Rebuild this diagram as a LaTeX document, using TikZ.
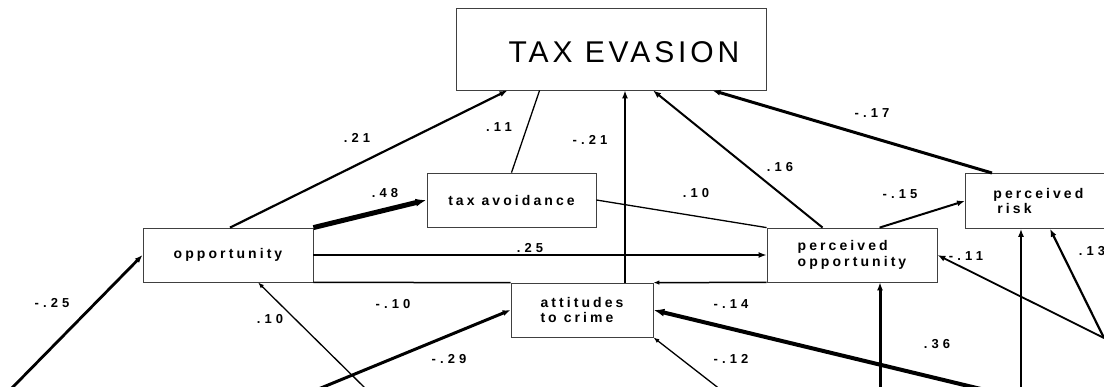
\documentclass[tikz,border=0pt]{standalone}
\usepackage{fontspec}
\setmainfont{Liberation Sans}
\newfontfamily\labfont[LetterSpace=22]{Liberation Sans Bold}
\newfontfamily\numfont[LetterSpace=32]{Liberation Sans Bold}
\newfontfamily\tefont[LetterSpace=13]{Liberation Sans}
\usetikzlibrary{arrows.meta,calc}
\begin{document}
\begin{tikzpicture}[x=1pt,y=-1pt,
  box/.style={draw=black!75,line width=0.8pt,rectangle,inner sep=0pt},
  boxtext/.style={font=\fontsize{14}{15.5}\labfont,align=left},
  lab/.style={font=\fontsize{13}{14}\numfont,inner sep=0pt},
  arr/.style={-{Latex[length=8pt,width=6pt]}},
  sarr/.style={-{Latex[length=6pt,width=4.5pt]}},
  barr/.style={-{Latex[length=11pt,width=8pt]}}]
\useasboundingbox (0,0) rectangle (1104,387);
\clip (0,0) rectangle (1104,387);
% boxes
\node[box,minimum width=310pt,minimum height=82pt] (te) at (611,49) {};
\node[font=\fontsize{30}{32}\tefont,inner sep=0pt] (tetext) at (624,52) {TAX EVASION};
\node[box,boxtext,minimum width=169pt,minimum height=54pt] (ta) at (511.5,200) {tax avoidance};
\node[box,boxtext,minimum width=170pt,minimum height=54pt] (opp) at (228,255) {opportunity};
\node[box,boxtext,minimum width=142pt,minimum height=54pt] (att) at (582,310) {attitudes\\to crime};
\node[box,boxtext,minimum width=170pt,minimum height=54pt] (popp) at (852,255) {perceived\\opportunity};
\node[box,boxtext,anchor=north west,minimum height=55pt,inner xsep=28pt,text width=130pt] (prisk) at (965,173) {perceived\\\hspace*{4pt}risk};
% free ends
\coordinate (c25) at (10,390);
\coordinate (c10b) at (367,390);
\coordinate (c29) at (316,390);
\coordinate (c12) at (721,390);
\coordinate (c36) at (985,390);
\coordinate (c880) at (880,390);
\coordinate (c1021) at (1021,390);
\coordinate (cR) at (1104,338);
% connectors to TAX EVASION
\draw[arr,line width=2.2pt] ([xshift=2pt]opp.north) -- ([xshift=52pt]te.south west);
\draw[line width=1.3pt] (ta.north) -- ([xshift=84pt]te.south west);
\draw[arr,line width=2.6pt] ([xshift=43pt]att.north) -- ([xshift=43pt]att.north |- te.south);
\draw[arr,line width=2pt] ([xshift=56pt]popp.north west) -- ([xshift=42pt]te.south);
\draw[arr,line width=3pt] ([xshift=27pt]prisk.north west) -- ([xshift=-54pt]te.south east);
% middle connectors
\draw[barr,line width=5pt] (opp.north east) -- (ta.west);
\draw[line width=1.3pt] (ta.east) -- (popp.north west);
\draw[arr,line width=2pt] ([xshift=113pt]popp.north west) -- (prisk.west);
\draw[arr,line width=2pt] (opp.east) -- (opp.east -| popp.west);
\draw[line width=1.5pt] (opp.south east) -- (att.north west);
\draw[sarr,line width=1.5pt] (popp.south west) -- (att.north east);
% lower connectors
\draw[sarr,line width=1.3pt] (c10b) -- ([xshift=30pt]opp.south);
\draw[arr,line width=2.8pt] (c25) -- (opp.west);
\draw[arr,line width=3pt] (c29) -- (att.west);
\draw[sarr,line width=1.3pt] (c12) -- (att.south east);
\draw[barr,line width=4pt] (c36) -- (att.east);
\draw[arr,line width=3pt] (c880) -- (c880 |- popp.south);
\draw[arr,line width=2.8pt] (c1021) -- (c1021 |- prisk.south);
\draw[arr,line width=1.8pt] (cR) -- (popp.east);
\draw[arr,line width=2.2pt] (cR) -- ([xshift=85pt]prisk.south west);
% labels
\node[lab] (l21) at (357,138) {.21};
\node[lab] (l11) at (499,127) {.11};
\node[lab] (lm21) at (590,140) {-.21};
\node[lab] (l16) at (780,167) {.16};
\node[lab] (lm17) at (872,113) {-.17};
\node[lab] (l48) at (385,193) {.48};
\node[lab] (l10a) at (696,193) {.10};
\node[lab] (lm15) at (900,194) {-.15};
\node[lab] (l25) at (530,248) {.25};
\node[lab] (lm10) at (393,304) {-.10};
\node[lab] (lm14) at (731,304) {-.14};
\node[lab] (lm12) at (731,359) {-.12};
\node[lab] (l36) at (937,344) {.36};
\node[lab] (lm11) at (966,256) {-.11};
\node[lab] (l13) at (1092,251) {.13};
\node[lab] (lm25) at (52,303) {-.25};
\node[lab] (l10b) at (270,319) {.10};
\node[lab] (lm29) at (449,359) {-.29};
\end{tikzpicture}
\end{document}
